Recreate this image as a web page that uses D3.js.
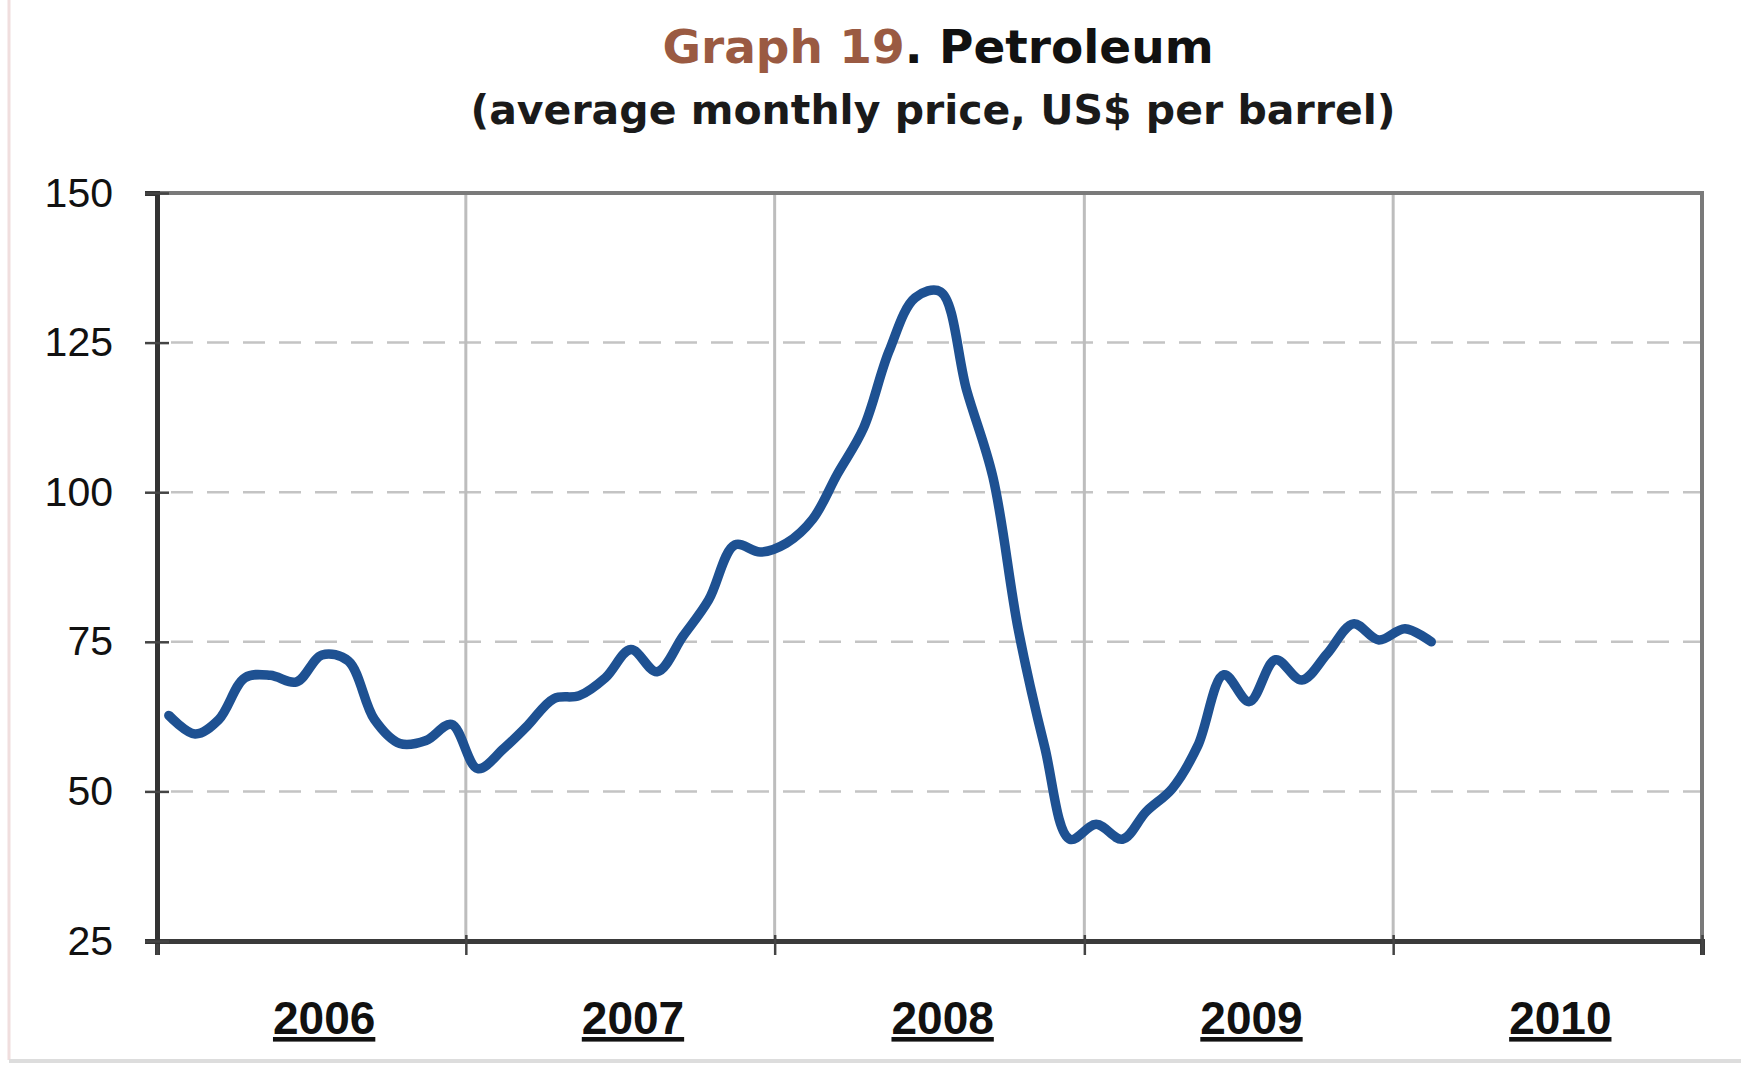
<!DOCTYPE html>
<html>
<head>
<meta charset="utf-8">
<script src="https://cdn.jsdelivr.net/npm/d3@7"></script>
<style>
  body { margin: 0; background: #fff; }
  svg { display: block; }
</style>
</head>
<body>
<script>
// svg size and plot box
var w = 1741;
var h = 1066;
var plotLeft = 157, plotRight = 1702, plotTop = 193, plotBottom = 941;

// monthly average price, Jan 2006 .. Feb 2010 (US$ per barrel)
var prices2006 = [62.7, 59.6, 62, 69, 69.4, 68.3, 72.8, 71.8, 62, 58, 58.5, 61.2];
var prices2007 = [53.8, 57.2, 61, 65.5, 66, 69, 73.7, 70, 76, 82, 91.2, 90];
var prices2008 = [91.5, 95.5, 103, 110.7, 123.5, 132.5, 133.5, 117, 102.5, 77, 57.5, 42];
var prices2009 = [44.5, 42, 46.6, 50.5, 57.6, 69.5, 65, 72, 68.6, 73, 78, 75.3];
var prices2010 = [77.2, 75];

var years = [2006, 2007, 2008, 2009, 2010];
var yTicks = [25, 50, 75, 100, 125, 150];
var gridValues = [50, 75, 100, 125];

// one point per month, placed mid-month
var prices = [].concat(prices2006, prices2007, prices2008, prices2009, prices2010);
var data = prices.map(function(v, i) {
  return { date: new Date(2006, i, 15), value: v };
});

var svg = d3.select("body")
            .append("svg")
            .attr("width", w)
            .attr("height", h);

// faint frame of the scanned picture
svg.append("line")
   .attr("x1", 9).attr("x2", 9).attr("y1", 0).attr("y2", 1060)
   .attr("stroke", "#f0dede").attr("stroke-width", 3);
svg.append("line")
   .attr("x1", 9).attr("x2", w).attr("y1", 1061).attr("y2", 1061)
   .attr("stroke", "#dddddd").attr("stroke-width", 4);

var x = d3.scaleTime()
          .domain([new Date(2006, 0, 1), new Date(2011, 0, 1)])
          .range([plotLeft, plotRight]);

var y = d3.scaleLinear()
          .domain([25, 150])
          .range([plotBottom, plotTop]);

// title
var title = svg.append("text")
               .attr("x", 938)
               .attr("y", 63)
               .attr("text-anchor", "middle")
               .style("font-family", "'DejaVu Sans', Verdana, sans-serif")
               .style("font-weight", "bold")
               .style("font-size", "47px");
title.append("tspan").attr("fill", "#9a5a42").text("Graph 19");
title.append("tspan").attr("fill", "#111").text(". Petroleum");

svg.append("text")
   .attr("x", 933)
   .attr("y", 124)
   .attr("text-anchor", "middle")
   .attr("fill", "#1a1a1a")
   .style("font-family", "'DejaVu Sans', Verdana, sans-serif")
   .style("font-weight", "bold")
   .style("font-size", "41px")
   .text("(average monthly price, US$ per barrel)");

// dashed horizontal grid
svg.append("g")
   .selectAll("line")
   .data(gridValues)
   .enter().append("line")
   .attr("x1", plotLeft + 14)
   .attr("x2", plotRight)
   .attr("y1", d => y(d))
   .attr("y2", d => y(d))
   .attr("stroke", "#c4c4c4")
   .attr("stroke-width", 2.5)
   .attr("stroke-dasharray", "22,14");

// solid vertical grid at year boundaries
svg.append("g")
   .selectAll("line")
   .data(years.slice(1))
   .enter().append("line")
   .attr("x1", d => x(new Date(d, 0, 1)))
   .attr("x2", d => x(new Date(d, 0, 1)))
   .attr("y1", plotTop)
   .attr("y2", plotBottom)
   .attr("stroke", "#bdbdbd")
   .attr("stroke-width", 3);

// top and right border
svg.append("path")
   .attr("d", "M" + plotLeft + "," + plotTop + "H" + plotRight + "V" + plotBottom)
   .attr("fill", "none")
   .attr("stroke", "#7a7a7a")
   .attr("stroke-width", 4);

// x axis with year ticks
var xAxis = svg.append("g")
               .attr("transform", "translate(0," + plotBottom + ")")
               .call(d3.axisBottom(x)
                       .tickValues(years.concat([2011]).map(d => new Date(d, 0, 1)))
                       .tickSize(14)
                       .tickFormat(""));
xAxis.select(".domain").attr("stroke", "#3a3a3a").attr("stroke-width", 5);
xAxis.selectAll(".tick line").attr("stroke", "#444").attr("stroke-width", 2.5).attr("y1", -6);

// year labels, bold and underlined
svg.append("g")
   .selectAll("text")
   .data(years)
   .enter().append("text")
   .attr("x", d => x(new Date(d, 6, 1)) + 14)
   .attr("y", 1034)
   .attr("text-anchor", "middle")
   .attr("fill", "#111")
   .style("font-family", "'Liberation Sans', Arial, sans-serif")
   .style("font-weight", "bold")
   .style("font-size", "46px")
   .style("text-decoration", "underline")
   .text(d => d);

// y axis
var yAxis = svg.append("g")
               .attr("transform", "translate(" + plotLeft + ",0)")
               .call(d3.axisLeft(y)
                       .tickValues(yTicks)
                       .tickSize(12)
                       .tickPadding(32));
yAxis.select(".domain").attr("stroke", "#333").attr("stroke-width", 5);
yAxis.selectAll(".tick line").attr("stroke", "#444").attr("stroke-width", 2.5).attr("x1", 12);
yAxis.selectAll(".tick text")
     .attr("fill", "#111")
     .style("font-family", "'Liberation Sans', Arial, sans-serif")
     .style("font-size", "41px");

// price line
var line = d3.line()
             .x(d => x(d.date))
             .y(d => y(d.value))
             .curve(d3.curveCatmullRom.alpha(0.5));

svg.append("path")
   .datum(data)
   .attr("fill", "none")
   .attr("stroke", "#1e5192")
   .attr("stroke-width", 9.5)
   .attr("stroke-linejoin", "round")
   .attr("stroke-linecap", "round")
   .attr("d", line);
</script>
</body>
</html>
